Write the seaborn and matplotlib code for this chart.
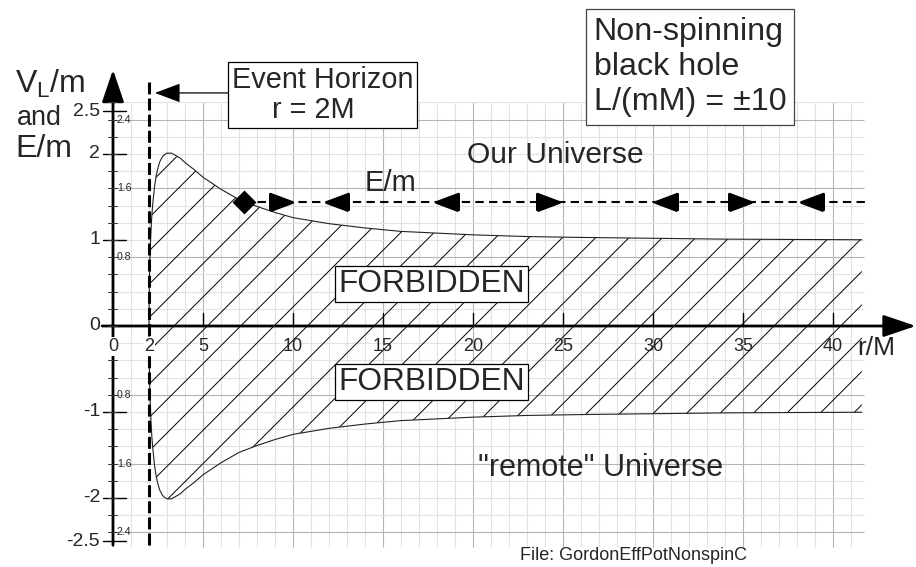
import matplotlib
matplotlib.use("Agg")
import numpy as np
import pandas as pd
import seaborn as sns
import matplotlib.pyplot as plt

# effective potential V_L/m (L/(mM) = 10)
r_m = [2.0, 2.01, 2.03, 2.05, 2.1, 2.15, 2.2, 2.3, 2.4, 2.5, 2.6, 2.75, 2.85, 3.0, 3.1, 3.25, 3.5,
       3.75, 4.0, 4.5, 5.0, 5.5, 6.0, 7.0, 8.0, 9.0, 10.0, 12.0, 14.0, 16.0, 18.0, 20.0, 23.0,
       26.0, 30.0, 34.0, 38.0, 41.6]
v_over_m = [0.0, 0.36, 0.61, 0.78, 1.06, 1.26, 1.40, 1.61, 1.75, 1.84, 1.91, 1.97, 1.99, 2.01, 2.01,
            2.01, 1.98, 1.95, 1.90, 1.82, 1.73, 1.66, 1.59, 1.47, 1.39, 1.32, 1.26, 1.19, 1.14,
            1.10, 1.08, 1.06, 1.04, 1.03, 1.02, 1.01, 1.006, 1.003]

# energy level E/m and the direction arrows on it
e_level = 1.44
e_r_start = 7.3
e_r_end = 42.05
right_arrows = [9.33, 24.17, 34.83]
left_arrows = [12.44, 18.56, 30.72, 38.83]

x_ticks = [5, 10, 15, 20, 25, 30, 35, 40]
x_tick_labels = ["0", "2", "5", "10", "15", "20", "25", "30", "35", "40"]
x_label_pos = [0, 2, 5, 10, 15, 20, 25, 30, 35, 40]
y_ticks = [2.5, 2, 1, -1, -2, -2.5]
y_label_pos = [2.5, 2, 1, 0, -1, -2, -2.5]
y_tick_labels = ["2.5", "2", "1", "0", "-1", "-2", "-2.5"]
small_ticks = [2.4, 1.6, 0.8, -0.8, -1.6, -2.4]
small_labels = ["2.4", "1.6", "0.8", "0.8", "1.6", "2.4"]

df = pd.DataFrame({"r": r_m, "V": v_over_m})
df["minusV"] = -df["V"]

sns.set_style("white")
plt.rcParams["font.family"] = ["Liberation Sans", "DejaVu Sans"]
plt.rcParams["mathtext.default"] = "regular"
plt.rcParams["hatch.linewidth"] = 0.35
plt.rcParams["lines.scale_dashes"] = False

fig = plt.figure(figsize=(4.58, 2.835), dpi=200)
ax = fig.add_axes([0, 0, 1, 1])
ax.set_xlim(-113 / 18, 803 / 18)
ax.set_ylim(-241 / 86, 326 / 86)

# graph paper
for x in range(1, 42):
    ax.vlines(x, -2.57, 2.6, color="#b4b4b4" if x % 5 == 0 else "#e2e2e2", lw=0.4, zorder=0)
for y in np.round(np.arange(-2.4, 2.61, 0.2), 1):
    major = abs(y / 0.8 - round(y / 0.8)) < 1e-6
    ax.hlines(y, 0, 41.7, color="#b4b4b4" if major else "#e2e2e2", lw=0.4, zorder=0)

# forbidden region
ax.fill_between(df["r"], df["minusV"], df["V"], facecolor="none", edgecolor="black",
                hatch="//", linewidth=0, zorder=1)
sns.lineplot(data=df, x="r", y="V", ax=ax, color="#222222", lw=0.4, zorder=2)
sns.lineplot(data=df, x="r", y="minusV", ax=ax, color="#222222", lw=0.4, zorder=2)
ax.axis("off")

# axes with arrows
arrow_kw = dict(arrowstyle="-|>,head_length=1.0,head_width=0.34", mutation_scale=10,
                lw=1.0, color="black", shrinkA=0, shrinkB=0)
ax.annotate("", xy=(44.6, 0), xytext=(-0.6, 0), arrowprops=arrow_kw, zorder=5)
ax.annotate("", xy=(0, 2.98), xytext=(0, -2.55), arrowprops=arrow_kw, zorder=5)

for t in y_ticks:
    ax.plot([-0.56, 0.72], [t, t], color="black", lw=0.5, zorder=5)
for y in np.round(np.arange(-2.4, 2.61, 0.2), 1):
    ax.plot([-0.25, 0.25], [y, y], color="#333333", lw=0.35, zorder=5)
for t in x_ticks:
    ax.plot([t, t], [0, 0.15], color="black", lw=0.5, zorder=5)

for pos, lab in zip(x_label_pos, x_tick_labels):
    bg = dict(boxstyle="square,pad=0.05", fc="white", ec="none") if pos <= 2 else None
    ax.text(pos, -0.24, lab, ha="center", va="center", fontsize=6.5, bbox=bg, zorder=6)
for pos, lab in zip(y_label_pos, y_tick_labels):
    ax.text(-0.72, pos, lab, ha="right", va="center", fontsize=7, zorder=6)
for pos, lab in zip(small_ticks, small_labels):
    ax.text(0.22, pos, lab, ha="left", va="center", fontsize=3.8, zorder=6)

# event horizon
ax.plot([2, 2], [-2.55, 2.84], color="black", lw=1.1, dashes=(4.3, 1.5), zorder=4)
ax.annotate("", xy=(2.33, 2.71), xytext=(6.5, 2.71),
            arrowprops=dict(arrowstyle="-|>,head_length=0.8,head_width=0.3", mutation_scale=10,
                            lw=0.45, color="black", shrinkA=0, shrinkB=0), zorder=5)
ax.text(6.6, 2.69, "Event Horizon\n     r = 2M", ha="left", va="center", fontsize=10.4,
        linespacing=1.08,
        bbox=dict(boxstyle="square,pad=0.14", fc="white", ec="black", lw=0.45), zorder=6)

# E/m level
ax.plot([e_r_start, e_r_end], [e_level, e_level], color="black", lw=0.75, dashes=(3.0, 1.9), zorder=4)
ax.plot([e_r_start], [e_level], ls="none", marker="D", ms=5, color="black", zorder=5)
tri_right = [(-1, -0.75), (1, 0), (-1, 0.75), (-1, -0.75)]
tri_left = [(1, -0.75), (-1, 0), (1, 0.75), (1, -0.75)]
ax.plot(right_arrows, [e_level] * len(right_arrows), ls="none", marker=tri_right, ms=8,
        color="black", zorder=5)
ax.plot(left_arrows, [e_level] * len(left_arrows), ls="none", marker=tri_left, ms=8,
        color="black", zorder=5)
ax.text(15.4, 1.66, "E/m", ha="center", va="center", fontsize=10.5, zorder=6)

# labels
ax.text(24.6, 1.99, "Our Universe", ha="center", va="center", fontsize=10.8, zorder=6)
ax.text(27.1, -1.65, '"remote" Universe', ha="center", va="center", fontsize=11, zorder=6)
box_kw = dict(boxstyle="square,pad=0.1", fc="white", ec="black", lw=0.45)
ax.text(17.7, 0.49, "FORBIDDEN", ha="center", va="center", fontsize=11.4, bbox=box_kw, zorder=6)
ax.text(17.7, -0.65, "FORBIDDEN", ha="center", va="center", fontsize=11.4, bbox=box_kw, zorder=6)
ax.text(32.06, 3.01, "Non-spinning\nblack hole\nL/(mM) = ±10", ha="center", va="center",
        multialignment="left", fontsize=11.6, linespacing=1.22,
        bbox=dict(boxstyle="square,pad=0.25", fc="white", ec="#444444", lw=0.45), zorder=6)
ax.text(42.4, -0.26, "r/M", ha="center", va="center", fontsize=9.5, zorder=6)
ax.text(35.2, -2.67, "File: GordonEffPotNonspinC", ha="right", va="center", fontsize=6.5, zorder=6)

ax.text(-5.44, 2.71, "V$_L$/m", ha="left", va="baseline", fontsize=11.5, zorder=6)
ax.text(-5.33, 2.42, "and", ha="left", va="center", fontsize=9.7, zorder=6)
ax.text(-5.44, 2.06, "E/m", ha="left", va="center", fontsize=11.5, zorder=6)

fig.savefig("out.png", dpi=200, facecolor="white")
